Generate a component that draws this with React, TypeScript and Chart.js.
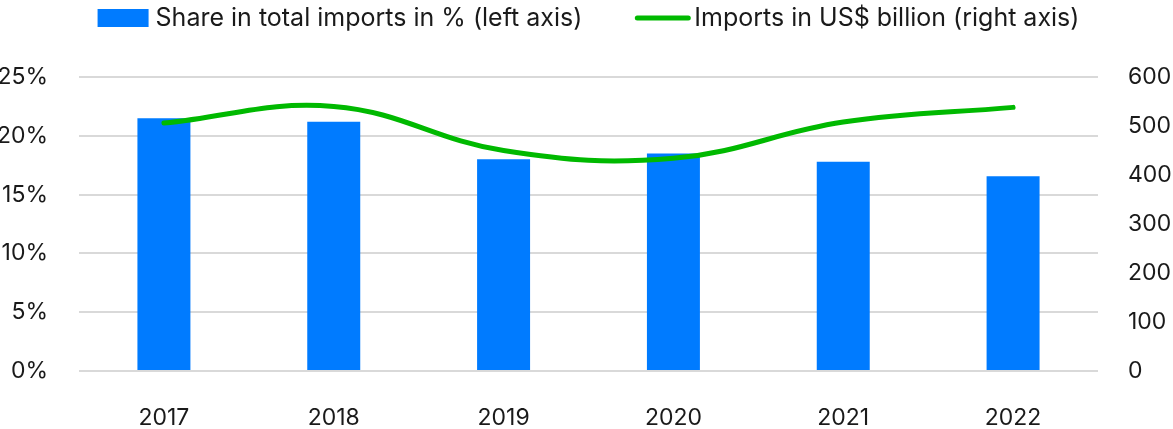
import React, { useEffect, useRef } from "react";
import { Chart, registerables } from "chart.js";

Chart.register(...registerables);

const years = ["2017", "2018", "2019", "2020", "2021", "2022"];
const sharePct = [21.5, 21.2, 18.0, 18.5, 17.8, 16.55];
const importsBn = [506, 540, 450, 434, 508, 538];
const shareLabel = "Share in total imports in % (left axis)";
const importsLabel = "Imports in US$ billion (right axis)";

const BAR_COLOR = "#007BFF";
const LINE_COLOR = "#00B900";
const TEXT_COLOR = "#1a1a1a";
const FONT = "Inter";

const legendPlugin = {
  id: "customLegend",
  afterDraw(chart: any) {
    const ctx = chart.ctx;
    const area = chart.chartArea;
    ctx.save();
    ctx.font = `25px ${FONT}`;
    ctx.textBaseline = "middle";
    ctx.fillStyle = TEXT_COLOR;
    const y = 18;
    const boxW = 51, boxH = 18, gap1 = 7, spacing = 53, lineW = 55, gap2 = 4;
    const t1 = ctx.measureText(shareLabel).width;
    const t2 = ctx.measureText(importsLabel).width;
    const total = boxW + gap1 + t1 + spacing + lineW + gap2 + t2;
    let x = (area.left + area.right) / 2 - total / 2;
    ctx.fillStyle = BAR_COLOR;
    ctx.fillRect(x, y - boxH / 2, boxW, boxH);
    x += boxW + gap1;
    ctx.fillStyle = TEXT_COLOR;
    ctx.textAlign = "left";
    ctx.fillText(shareLabel, x, y);
    x += t1 + spacing;
    ctx.strokeStyle = LINE_COLOR;
    ctx.lineWidth = 5;
    ctx.lineCap = "round";
    ctx.beginPath();
    ctx.moveTo(x + 2, y);
    ctx.lineTo(x + lineW - 2, y);
    ctx.stroke();
    x += lineW + gap2;
    ctx.fillText(importsLabel, x, y);
    ctx.restore();
  },
};

export default function App() {
  const ref = useRef<HTMLCanvasElement>(null);
  useEffect(() => {
    if (!ref.current) return;
    const chart = new Chart(ref.current, {
      type: "bar",
      data: {
        labels: years,
        datasets: [
          {
            type: "line",
            label: importsLabel,
            data: importsBn,
            yAxisID: "y1",
            borderColor: LINE_COLOR,
            backgroundColor: LINE_COLOR,
            borderWidth: 5,
            pointRadius: 0,
            tension: 0.4,
            borderCapStyle: "round",
            order: 0,
          } as any,
          {
            type: "bar",
            label: shareLabel,
            data: sharePct,
            yAxisID: "y",
            backgroundColor: BAR_COLOR,
            categoryPercentage: 1,
            barPercentage: 0.312,
            order: 1,
          },
        ],
      },
      options: {
        responsive: false,
        animation: false,
        layout: { padding: { top: 77, left: 0, right: 0, bottom: 0 } },
        plugins: { legend: { display: false }, tooltip: { enabled: false } },
        scales: {
          x: {
            grid: { display: false, drawTicks: false },
            border: { display: false },
            ticks: { color: TEXT_COLOR, font: { family: FONT, size: 23 }, padding: 33, maxRotation: 0 },
            afterFit: (s: any) => { s.height = 58; },
          },
          y: {
            position: "left",
            min: 0,
            max: 25,
            ticks: {
              stepSize: 5,
              color: TEXT_COLOR,
              font: { family: FONT, size: 23 },
              padding: 31,
              callback: (v: any) => `${v}%`,
            },
            grid: { color: "#d9d9d9", lineWidth: 2, drawTicks: false },
            border: { display: false },
            afterFit: (s: any) => { s.width = 79; },
          },
          y1: {
            position: "right",
            min: 0,
            max: 600,
            ticks: {
              stepSize: 100,
              color: TEXT_COLOR,
              font: { family: FONT, size: 23 },
              padding: 30,
            },
            grid: { display: false, drawTicks: false },
            border: { display: false },
            afterFit: (s: any) => { s.width = 102; },
          },
        },
      },
      plugins: [legendPlugin],
    });
    return () => chart.destroy();
  }, []);
  return (
    <div style={{ position: "fixed", left: 0, top: 0, width: 1173, height: 429, overflow: "hidden", background: "#fff" }}>
      <canvas ref={ref} width={1200} height={429} style={{ display: "block" }} />
    </div>
  );
}
